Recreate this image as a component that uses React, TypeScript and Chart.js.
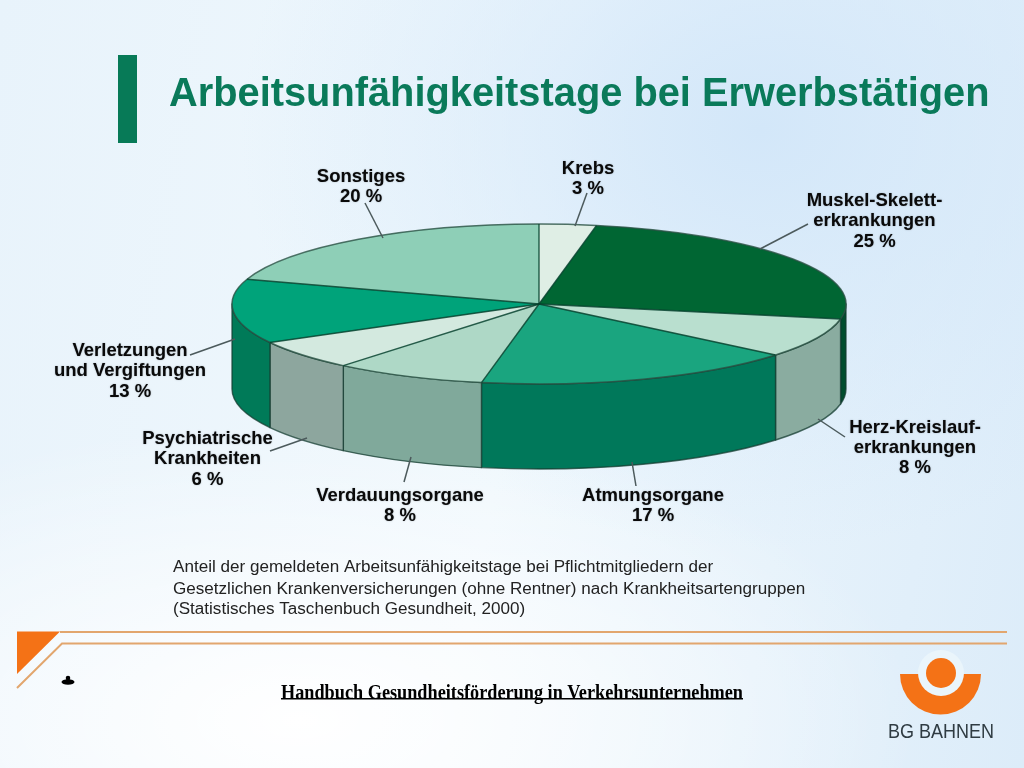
import React, { useEffect, useRef } from "react";
import { Chart, registerables } from "chart.js";

Chart.register(...registerables);

const categories = ["Krebs", "Muskel-Skelett-erkrankungen", "Herz-Kreislauf-erkrankungen", "Atmungsorgane", "Verdauungsorgane", "Psychiatrische Krankheiten", "Verletzungen und Vergiftungen", "Sonstiges"];
const shares = [3, 25, 8, 17, 8, 6, 13, 20];
const topColors = ["#dfeee5", "#006633", "#b9dfcf", "#1aa57f", "#aed8c6", "#d3e9df", "#00a37a", "#8ecfb7"];
const sideColors = ["#b0c0b8", "#004d2e", "#8aaca0", "#00785a", "#80a99b", "#8da69e", "#007a58", "#6fa090"];

const titleText = "Arbeitsunfähigkeitstage bei Erwerbstätigen";
const captionLines = [
  "Anteil der gemeldeten Arbeitsunfähigkeitstage bei Pflichtmitgliedern der",
  "Gesetzlichen Krankenversicherungen (ohne Rentner) nach Krankheitsartengruppen",
  "(Statistisches Taschenbuch Gesundheit, 2000)",
];
const footerText = "Handbuch Gesundheitsförderung in Verkehrsunternehmen";
const logoText = "BG BAHNEN";

type Lab = { lines: string[]; x: number; y: number; lead: number[] };
const labelLayout: Lab[] = [
  { lines: ["Krebs", "3 %"], x: 588, y: 168.5, lead: [587, 193, 575, 226] },
  { lines: ["Muskel-Skelett-", "erkrankungen", "25 %"], x: 874.5, y: 201, lead: [808, 224, 760, 249] },
  { lines: ["Herz-Kreislauf-", "erkrankungen", "8 %"], x: 915, y: 427.5, lead: [845, 437, 818, 419] },
  { lines: ["Atmungsorgane", "17 %"], x: 653, y: 496, lead: [636, 486, 632, 462] },
  { lines: ["Verdauungsorgane", "8 %"], x: 400, y: 496, lead: [404, 482, 411, 457] },
  { lines: ["Psychiatrische", "Krankheiten", "6 %"], x: 207.5, y: 439, lead: [270, 451, 307, 438] },
  { lines: ["Verletzungen", "und Vergiftungen", "13 %"], x: 130, y: 351, lead: [190, 355, 235, 339] },
  { lines: ["Sonstiges", "20 %"], x: 361, y: 177, lead: [365, 203, 383, 238] },
];

const SQUASH = 80 / 307;
const DEPTH = 85;
const FONT = '"Liberation Sans", Arial, sans-serif';

const pie3d = {
  id: "pie3d",
  beforeDraw(chart: any) {
    const c = chart.ctx;
    c.save();
    // green title bar
    c.fillStyle = "#077a57";
    c.fillRect(118, 55, 19, 88);
    c.fillStyle = "#0a7a5a";
    c.font = `bold 39.8px ${FONT}`;
    c.textAlign = "left";
    c.textBaseline = "alphabetic";
    c.fillText(titleText, 169, 106, 821);

    // orange corner and rules
    c.fillStyle = "#f47216";
    c.beginPath();
    c.moveTo(17, 631.5);
    c.lineTo(60, 631.5);
    c.lineTo(17, 674);
    c.closePath();
    c.fill();
    c.strokeStyle = "#e2a66e";
    c.lineWidth = 2;
    c.beginPath();
    c.moveTo(60, 632);
    c.lineTo(1007, 632);
    c.moveTo(1007, 643.5);
    c.lineTo(62, 643.5);
    c.lineTo(17, 688);
    c.stroke();

    // logo
    c.fillStyle = "#f47216";
    c.beginPath();
    c.arc(940.5, 674, 40.5, 0, Math.PI);
    c.closePath();
    c.fill();
    c.fillStyle = "#eaf5fb";
    c.beginPath();
    c.arc(941, 673, 23, 0, Math.PI * 2);
    c.fill();
    c.fillStyle = "#f47216";
    c.beginPath();
    c.arc(941, 673, 15, 0, Math.PI * 2);
    c.fill();
    c.fillStyle = "#2f3b42";
    c.font = `21px ${FONT}`;
    c.textAlign = "left";
    c.fillText(logoText, 888, 738, 106);

    // footer
    c.fillStyle = "#000";
    c.font = 'bold 22px "Liberation Serif", serif';
    c.fillText(footerText, 281, 699, 462);
    c.fillRect(281, 698, 462, 1.5);
    c.beginPath();
    c.ellipse(68, 682, 6.5, 2.8, 0, 0, Math.PI * 2);
    c.arc(68, 678, 2.3, 0, Math.PI * 2);
    c.fill();

    // caption
    c.fillStyle = "#222";
    c.font = `17.08px ${FONT}`;
    captionLines.forEach((l, i) => c.fillText(l, 173, [572, 594, 614][i], 633));
    c.restore();
  },
  beforeDatasetsDraw(chart: any) {
    const c = chart.ctx;
    const arcs = chart.getDatasetMeta(0).data;
    c.save();
    c.lineJoin = "round";
    arcs.forEach((el: any, i: number) => {
      const cy = el.y;
      const rx = el.outerRadius;
      const ry = rx * SQUASH;
      const from = Math.max(el.startAngle, 0);
      const to = Math.min(el.endAngle, Math.PI);
      if (to <= from) return;
      c.beginPath();
      c.ellipse(el.x, cy, rx, ry, 0, from, to);
      c.ellipse(el.x, cy + DEPTH, rx, ry, 0, to, from, true);
      c.closePath();
      c.fillStyle = sideColors[i];
      c.fill();
      c.strokeStyle = "rgba(20,60,48,0.75)";
      c.lineWidth = 1.4;
      c.stroke();
    });
    c.restore();
    const m = arcs[0];
    c.save();
    c.translate(0, m.y);
    c.scale(1, SQUASH);
    c.translate(0, -m.y);
  },
  afterDatasetsDraw(chart: any) {
    const c = chart.ctx;
    c.restore();
    const arcs = chart.getDatasetMeta(0).data;
    c.save();
    c.lineJoin = "round";
    arcs.forEach((el: any) => {
      const ry = el.outerRadius * SQUASH;
      c.beginPath();
      c.ellipse(el.x, el.y, el.outerRadius, ry, 0, el.startAngle, el.endAngle);
      c.strokeStyle = "rgba(40,80,66,0.8)";
      c.lineWidth = 1.5;
      c.stroke();
    });
    arcs.forEach((el: any) => {
      const ry = el.outerRadius * SQUASH;
      c.beginPath();
      c.moveTo(el.x, el.y);
      c.lineTo(el.x + el.outerRadius * Math.cos(el.startAngle), el.y + ry * Math.sin(el.startAngle));
      c.strokeStyle = "rgba(6,66,46,0.85)";
      c.lineWidth = 1.4;
      c.stroke();
    });
    c.restore();

    c.save();
    c.strokeStyle = "#4c5a5c";
    c.lineWidth = 1.5;
    labelLayout.forEach((l) => {
      c.beginPath();
      c.moveTo(l.lead[0], l.lead[1]);
      c.lineTo(l.lead[2], l.lead[3]);
      c.stroke();
    });
    c.fillStyle = "#0a0a0a";
    c.font = `bold 18.5px ${FONT}`;
    c.textAlign = "center";
    c.textBaseline = "middle";
    c.shadowColor = "rgba(90,100,110,0.55)";
    c.shadowBlur = 1.5;
    labelLayout.forEach((l) => {
      l.lines.forEach((t, i) => c.fillText(t, l.x, l.y + i * 20.3));
    });
    c.restore();
  },
};

export default function App() {
  const ref = useRef<HTMLCanvasElement>(null);
  useEffect(() => {
    const chart = new Chart(ref.current as HTMLCanvasElement, {
      type: "pie",
      data: {
        labels: categories,
        datasets: [{ data: shares, backgroundColor: topColors, borderWidth: 0 }],
      },
      options: {
        responsive: false,
        animation: false,
        radius: 307,
        rotation: 0,
        layout: { padding: { left: 54, bottom: 160 } },
        plugins: { legend: { display: false }, tooltip: { enabled: false }, title: { display: false } },
      } as any,
      plugins: [pie3d],
    });
    return () => chart.destroy();
  }, []);
  return (
    <div
      style={{
        position: "absolute",
        left: 0,
        top: 0,
        width: 1024,
        height: 768,
        overflow: "hidden",
        background:
          "radial-gradient(ellipse 620px 300px at 300px 720px, #ffffff 0%, rgba(255,255,255,0) 100%)," +
          "radial-gradient(ellipse 520px 420px at 760px 130px, #d3e7f9 0%, rgba(211,231,249,0) 100%)," +
          "linear-gradient(100deg, #e8f3fb 0%, #f0f8fd 50%, #dcecf9 100%)",
      }}
    >
      <canvas ref={ref} width={1024} height={768} style={{ display: "block" }} />
    </div>
  );
}
